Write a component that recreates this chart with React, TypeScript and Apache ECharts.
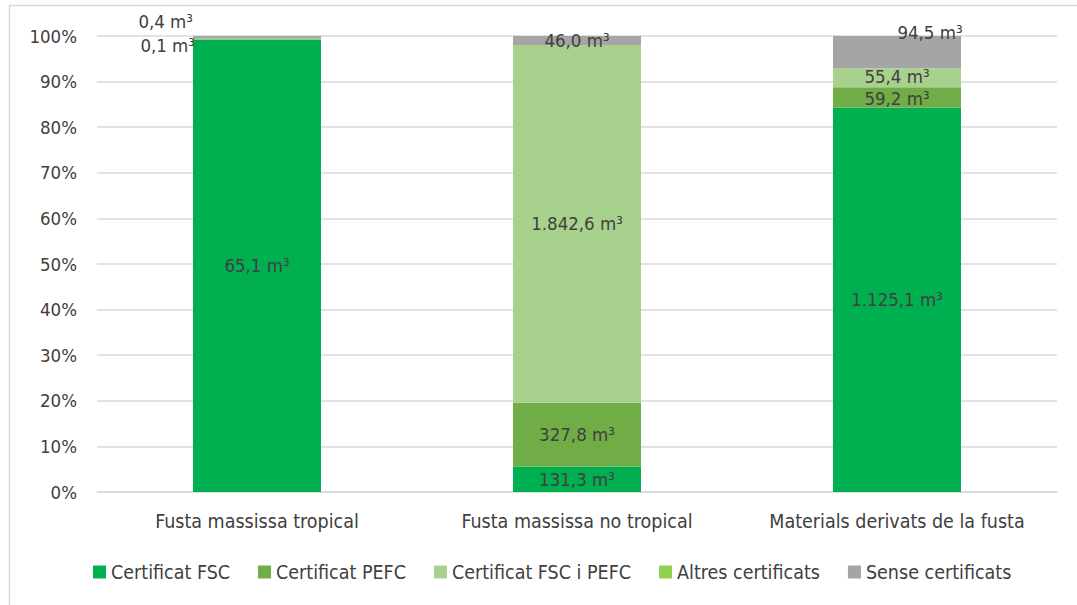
import React, { useEffect, useRef } from "react";
import * as echarts from "echarts";

const categories = [
  "Fusta massissa tropical",
  "Fusta massissa no tropical",
  "Materials derivats de la fusta",
];
const seriesNames = [
  "Certificat FSC",
  "Certificat PEFC",
  "Certificat FSC i PEFC",
  "Altres certificats",
  "Sense certificats",
];
const colors = ["#00B050", "#70AD47", "#A9D18E", "#92D050", "#A5A5A5"];
// volumes in m3
const fsc = [65.1, 131.3, 1125.1];
const pefc = [0, 327.8, 59.2];
const fscPefc = [0, 1842.6, 55.4];
const altres = [0.1, 0, 0];
const sense = [0.4, 46.0, 94.5];
const yTicks = [0, 10, 20, 30, 40, 50, 60, 70, 80, 90, 100];

const FONT = "'Liberation Sans Narrow', 'Arial Narrow', 'DejaVu Sans Condensed', sans-serif";
const TXT = "#404040";
const FS = 19.5;
const LFS = 18.5;

function fmt(v: number): string {
  const [i, d] = v.toFixed(1).split(".");
  const withSep = i.replace(/\B(?=(\d{3})+(?!\d))/g, ".");
  return `${withSep},${d} m³`;
}

export default function App() {
  const ref = useRef<HTMLDivElement>(null);
  useEffect(() => {
    document.body.style.margin = "0";
    if (!ref.current) return;
    const chart = echarts.init(ref.current, undefined, { renderer: "svg" });
    const all = [fsc, pefc, fscPefc, altres, sense];
    const totals = categories.map((_, i) => all.reduce((s, arr) => s + arr[i], 0));

    const labelCfg = (si: number, ci: number): any => {
      const v = all[si][ci];
      if (!v) return { show: false };
      const base = {
        show: true,
        formatter: fmt(v),
        color: TXT,
        fontFamily: FONT,
        fontSize: LFS,
      };
      if (si === 3 && ci === 0) return { ...base, position: "left", distance: 0, offset: [2, 6] };
      if (si === 4 && ci === 0) return { ...base, position: "left", distance: 0, offset: [0, -16] };
      if (si === 4 && ci === 2) return { ...base, position: "inside", offset: [33, -20] };
      if (si === 2 && ci === 2) return { ...base, position: "inside", offset: [0, -1] };
      if (si === 1 && ci === 2) return { ...base, position: "inside", offset: [0, 1] };
      return { ...base, position: "inside" };
    };

    const series = seriesNames.map((name, si) => ({
      name,
      type: "bar",
      stack: "total",
      barWidth: "40%",
      itemStyle: { color: colors[si] },
      data: categories.map((_, ci) => ({
        value: (all[si][ci] / totals[ci]) * 100,
        label: labelCfg(si, ci),
      })),
    }));

    chart.setOption({
      animation: false,
      color: colors,
      graphic: [
        {
          type: "rect",
          shape: { x: 9.5, y: 5.5, width: 1100, height: 700 },
          style: { fill: "none", stroke: "#D9D9D9", lineWidth: 1.5 },
          silent: true,
        },
      ],
      grid: { left: 97, right: 20, top: 36, bottom: 113 },
      legend: {
        bottom: 18,
        left: 88,
        itemWidth: 13,
        itemHeight: 13,
        itemGap: 28,
        icon: "rect",
        textStyle: { color: TXT, fontFamily: FONT, fontSize: FS },
        data: seriesNames,
      },
      xAxis: {
        type: "category",
        data: categories,
        axisTick: { show: false },
        axisLine: { lineStyle: { color: "#D9D9D9", width: 1.5 } },
        axisLabel: { color: TXT, fontFamily: FONT, fontSize: FS, margin: 19, interval: 0 },
      },
      yAxis: {
        type: "value",
        min: 0,
        max: 100,
        interval: 10,
        axisLabel: {
          color: TXT,
          fontFamily: FONT,
          fontSize: 18.5,
          margin: 20,
          formatter: (v: number) => (yTicks.includes(v) ? `${v}%` : ""),
        },
        splitLine: { lineStyle: { color: "#D9D9D9", width: 1.5 } },
        axisLine: { show: false },
        axisTick: { show: false },
      },
      series,
    });
    return () => chart.dispose();
  }, []);
  return <div ref={ref} style={{ width: 1077, height: 605 }} />;
}
